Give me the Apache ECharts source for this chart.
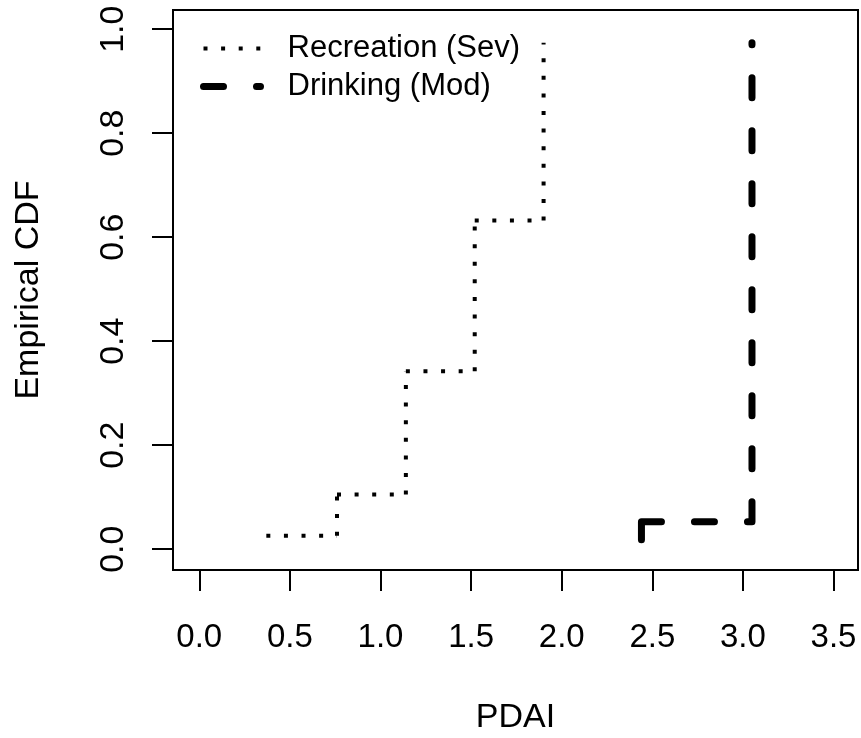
<!DOCTYPE html>
<html>
<head>
<meta charset="utf-8">
<title>Empirical CDF</title>
<script src="https://cdn.jsdelivr.net/npm/echarts@6/dist/echarts.min.js"></script>
<style>
html,body{margin:0;padding:0;background:#fff;}
#chart{width:861px;height:738px;}
</style>
</head>
<body>
<div id="chart"></div>
<script>
// Recreation (Sev): jump points and cdf levels
const recX = [0.37, 0.76, 1.14, 1.52, 1.90];
const recY = [0.026, 0.105, 0.342, 0.632, 0.974];
// Drinking (Mod)
const drinkX = [2.44, 2.44, 3.05];
const drinkY = [0.018, 0.053, 0.974];

const xTicks = [0, 0.5, 1, 1.5, 2, 2.5, 3, 3.5];
const yTicks = [0, 0.2, 0.4, 0.6, 0.8, 1];
const names = ['Recreation (Sev)', 'Drinking (Mod)'];

const FONT = 'Liberation Sans, Arial, Helvetica, sans-serif';

// each piece on its own like segments() in R, so the dash pattern restarts
function stepSegments(xs, ys) {
    let out = [];
    for (let i = 0; i < xs.length - 1; i++) {
        out.push([xs[i], ys[i]], [xs[i + 1], ys[i]], [xs[i + 1], '-']);
        out.push([xs[i + 1], ys[i]], [xs[i + 1], ys[i + 1]], [xs[i + 1], '-']);
    }
    return out;
}

let chart = echarts.init(document.getElementById('chart'), null, {renderer: 'canvas'});

let option = {
    animation: false,
    backgroundColor: '#fff',
    textStyle: {fontFamily: FONT, color: '#000'},
    grid: {
        show: true,
        borderColor: '#000',
        borderWidth: 2,
        left: 173,
        right: 3,
        top: 10,
        bottom: 168,
        outerBoundsMode: 'none'
    },
    legend: {
        orient: 'vertical',
        left: 200,
        top: 33,
        padding: 0,
        itemWidth: 57,
        itemHeight: 30,
        itemGap: 7,
        data: names,
        lineStyle: {width: 'inherit'},
        itemStyle: {opacity: 0},
        textStyle: {fontFamily: FONT, fontSize: 31, color: '#000', lineHeight: 31, padding: [0, 0, 0, 22]}
    },
    xAxis: {
        type: 'value',
        min: -0.145,
        max: 3.635,
        name: 'PDAI',
        nameLocation: 'middle',
        nameGap: 131,
        nameTextStyle: {fontFamily: FONT, fontSize: 34, color: '#000'},
        axisLine: {show: false, onZero: false},
        splitLine: {show: false},
        axisTick: {
            customValues: xTicks,
            inside: false,
            length: 21,
            lineStyle: {color: '#000', width: 2}
        },
        axisLabel: {
            customValues: xTicks,
            formatter: v => v.toFixed(1),
            fontFamily: FONT,
            fontSize: 33,
            color: '#000',
            margin: 51
        }
    },
    yAxis: {
        type: 'value',
        min: -0.04,
        max: 1.037,
        name: 'Empirical CDF',
        nameLocation: 'middle',
        nameGap: 127,
        nameTextStyle: {fontFamily: FONT, fontSize: 34, color: '#000'},
        axisLine: {show: false, onZero: false},
        splitLine: {show: false},
        axisTick: {
            customValues: yTicks,
            inside: false,
            length: 21,
            lineStyle: {color: '#000', width: 2}
        },
        axisLabel: {
            customValues: yTicks,
            formatter: v => v.toFixed(1),
            rotate: 90,
            fontFamily: FONT,
            fontSize: 34,
            color: '#000',
            margin: 42
        }
    },
    series: [
        {
            name: names[0],
            type: 'line',
            data: stepSegments(recX, recY),
            symbol: 'none',
            showSymbol: false,
            connectNulls: false,
            color: '#000',
            lineStyle: {color: '#000', width: 4, type: [4, 13.6], cap: 'butt'}
        },
        {
            name: names[1],
            type: 'line',
            data: stepSegments(drinkX, drinkY),
            symbol: 'none',
            showSymbol: false,
            connectNulls: false,
            color: '#000',
            lineStyle: {color: '#000', width: 7, type: [20, 33], cap: 'round'}
        }
    ]
};
chart.setOption(option);
</script>
</body>
</html>
